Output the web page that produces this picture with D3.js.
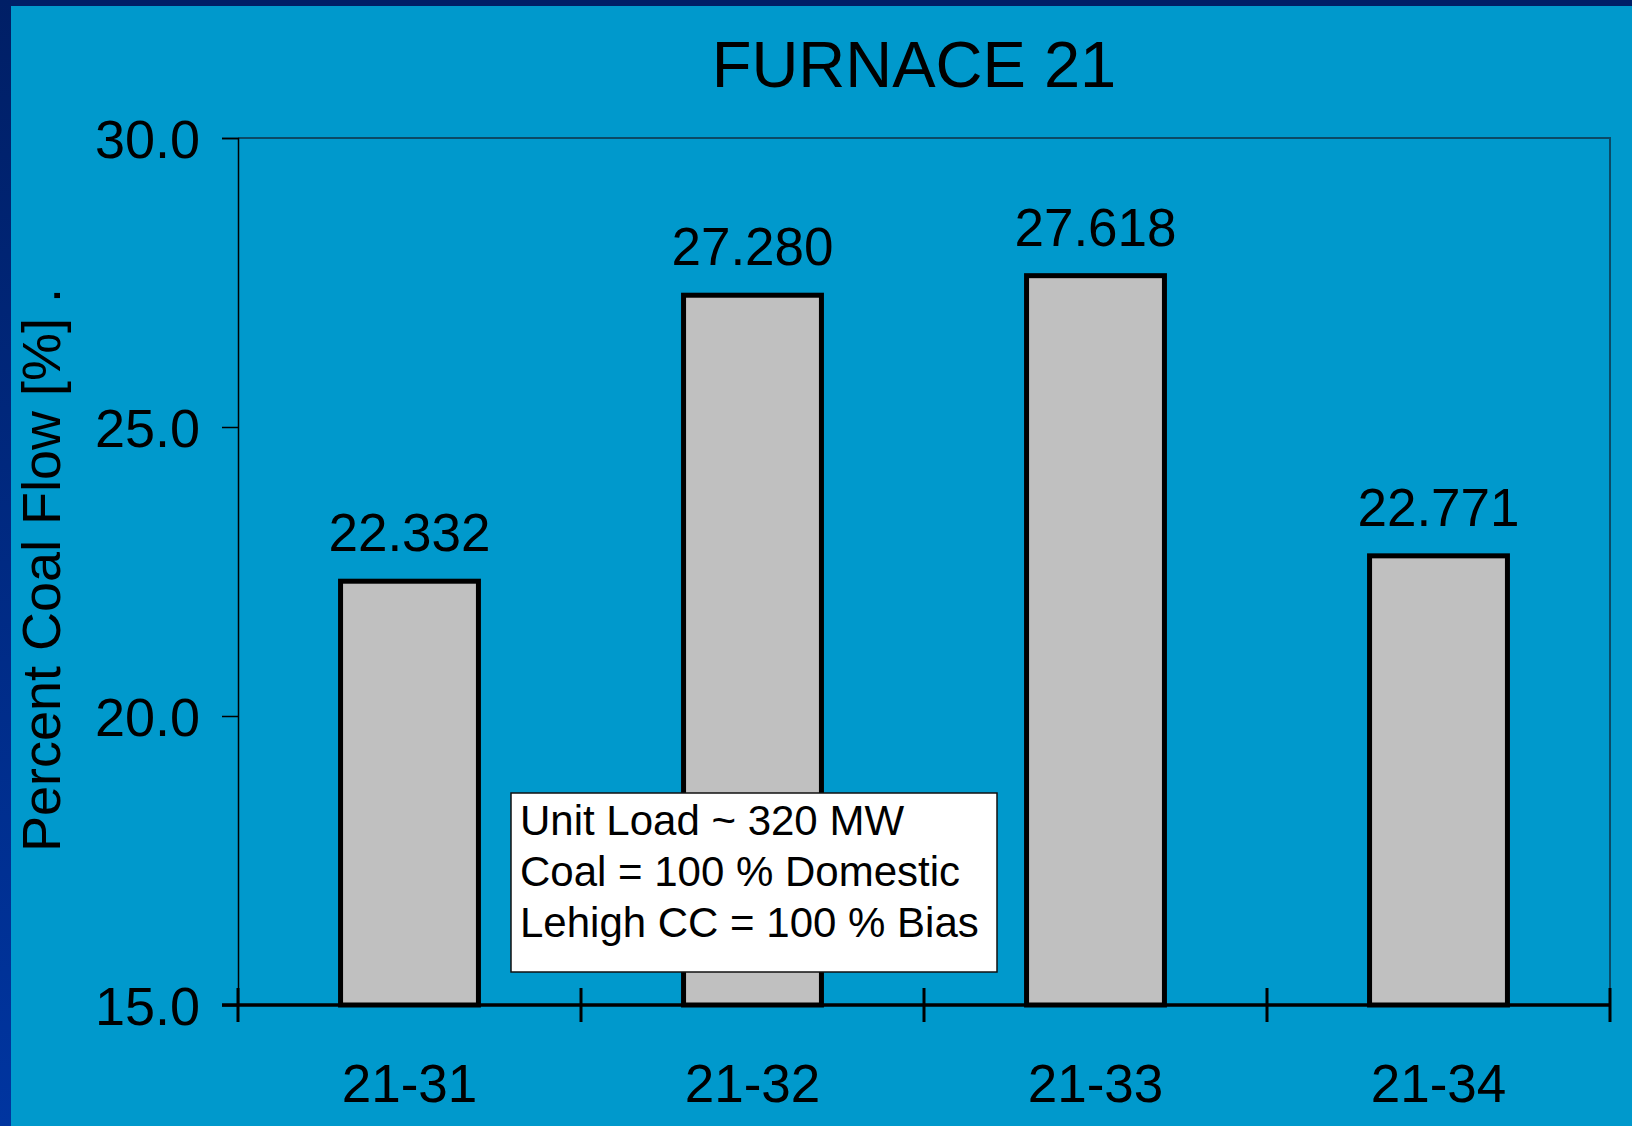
<!DOCTYPE html>
<html>
<head>
<meta charset="utf-8">
<script src="https://cdn.jsdelivr.net/npm/d3@7"></script>
<style>
  body { margin: 0; background: #0099cc; }
  svg { display: block; font-family: "Liberation Sans", Arial, sans-serif; }
</style>
</head>
<body>
<div id="chart"></div>
<script>
const WIDTH = 1632, HEIGHT = 1126;
const margin = {top: 138, right: 22, bottom: 121, left: 238};

// data
const furnaces = ["21-31", "21-32", "21-33", "21-34"];
const coalFlow = [22.332, 27.280, 27.618, 22.771];
const yTicks = [15, 20, 25, 30];
const noteLines = ["Unit Load ~ 320 MW", "Coal = 100 % Domestic", "Lehigh CC = 100 % Bias"];

let svg = d3.select("#chart")
    .append("svg")
    .attr("width", WIDTH)
    .attr("height", HEIGHT);

// slide background with the dark edge strips
let defs = svg.append("defs");
let grad = defs.append("linearGradient")
    .attr("id", "edge")
    .attr("x1", 0).attr("y1", 0).attr("x2", 0).attr("y2", 1);
grad.append("stop").attr("offset", "0%").attr("stop-color", "#001f66");
grad.append("stop").attr("offset", "100%").attr("stop-color", "#0035a0");

svg.append("rect").attr("width", WIDTH).attr("height", HEIGHT).attr("fill", "#0099cc");
svg.append("rect").attr("width", WIDTH).attr("height", 6).attr("fill", "#001f66");
svg.append("rect").attr("width", 11).attr("height", HEIGHT).attr("fill", "url(#edge)");

let plotW = WIDTH - margin.left - margin.right;
let plotH = HEIGHT - margin.top - margin.bottom;

let g = svg.append("g")
    .attr("transform", `translate(${margin.left}, ${margin.top})`);

let x = d3.scaleBand()
    .domain(furnaces)
    .range([0, plotW])
    .paddingInner(0.598)
    .paddingOuter(0.299);

let y = d3.scaleLinear()
    .domain([15, 30])
    .range([plotH, 0]);

// plot frame (top and right)
g.append("path")
    .attr("d", `M0,0 H${plotW} V${plotH}`)
    .attr("fill", "none")
    .attr("stroke", "#0b4a66")
    .attr("stroke-width", 2);

// left axis
let yAxis = g.append("g")
    .call(d3.axisLeft(y).tickValues(yTicks).tickSize(16).tickPadding(22).tickFormat(d3.format(".1f")));
yAxis.select(".domain").attr("stroke", "#000").attr("stroke-width", 1.5);
yAxis.selectAll(".tick line").attr("stroke", "#000").attr("stroke-width", 1.5);
yAxis.selectAll(".tick text")
    .attr("font-size", 54)
    .attr("fill", "#000")
    .attr("dy", "0.36em")
    .style("font-family", "Liberation Sans, Arial, sans-serif");

// bars
g.selectAll("rect.bar")
    .data(furnaces)
    .enter()
    .append("rect")
    .attr("class", "bar")
    .attr("x", function(d) { return x(d); })
    .attr("y", function(d, i) { return y(coalFlow[i]); })
    .attr("width", x.bandwidth())
    .attr("height", function(d, i) { return plotH - y(coalFlow[i]); })
    .attr("fill", "#c0c0c0")
    .attr("stroke", "#000")
    .attr("stroke-width", 5);

// value labels
g.selectAll("text.val")
    .data(furnaces)
    .enter()
    .append("text")
    .attr("class", "val")
    .attr("x", function(d) { return x(d) + x.bandwidth() / 2; })
    .attr("y", function(d, i) { return y(coalFlow[i]) - 30; })
    .attr("text-anchor", "middle")
    .attr("font-size", 53)
    .text(function(d, i) { return coalFlow[i].toFixed(3); });

// bottom axis: thick line, ticks between categories
let step = x.step();
let xTickPos = d3.range(furnaces.length + 1).map(function(i) { return i * step; });
g.append("line")
    .attr("x1", -16).attr("x2", plotW)
    .attr("y1", plotH).attr("y2", plotH)
    .attr("stroke", "#000").attr("stroke-width", 3.5);
g.selectAll("line.xtick")
    .data(xTickPos)
    .enter()
    .append("line")
    .attr("class", "xtick")
    .attr("x1", function(d) { return d; }).attr("x2", function(d) { return d; })
    .attr("y1", plotH - 17).attr("y2", plotH + 17)
    .attr("stroke", "#000").attr("stroke-width", 3);

g.selectAll("text.xlab")
    .data(furnaces)
    .enter()
    .append("text")
    .attr("class", "xlab")
    .attr("x", function(d) { return x(d) + x.bandwidth() / 2; })
    .attr("y", plotH + 97)
    .attr("text-anchor", "middle")
    .attr("font-size", 53)
    .text(function(d) { return d; });

// title
svg.append("text")
    .attr("x", 914)
    .attr("y", 87)
    .attr("text-anchor", "middle")
    .attr("font-size", 65)
    .text("FURNACE 21");

// y axis title
svg.append("text")
    .attr("transform", `translate(60, 570) rotate(-90)`)
    .attr("text-anchor", "middle")
    .attr("font-size", 54)
    .text("Percent Coal Flow [%] .");

// note box
let note = svg.append("g").attr("transform", "translate(511, 793)");
note.append("rect")
    .attr("width", 486)
    .attr("height", 179)
    .attr("fill", "#fff")
    .attr("stroke", "#111")
    .attr("stroke-width", 1.5);
note.selectAll("text")
    .data(noteLines)
    .enter()
    .append("text")
    .attr("x", 9)
    .attr("y", function(d, i) { return 42 + i * 51; })
    .attr("font-size", 42)
    .text(function(d) { return d; });
</script>
</body>
</html>
